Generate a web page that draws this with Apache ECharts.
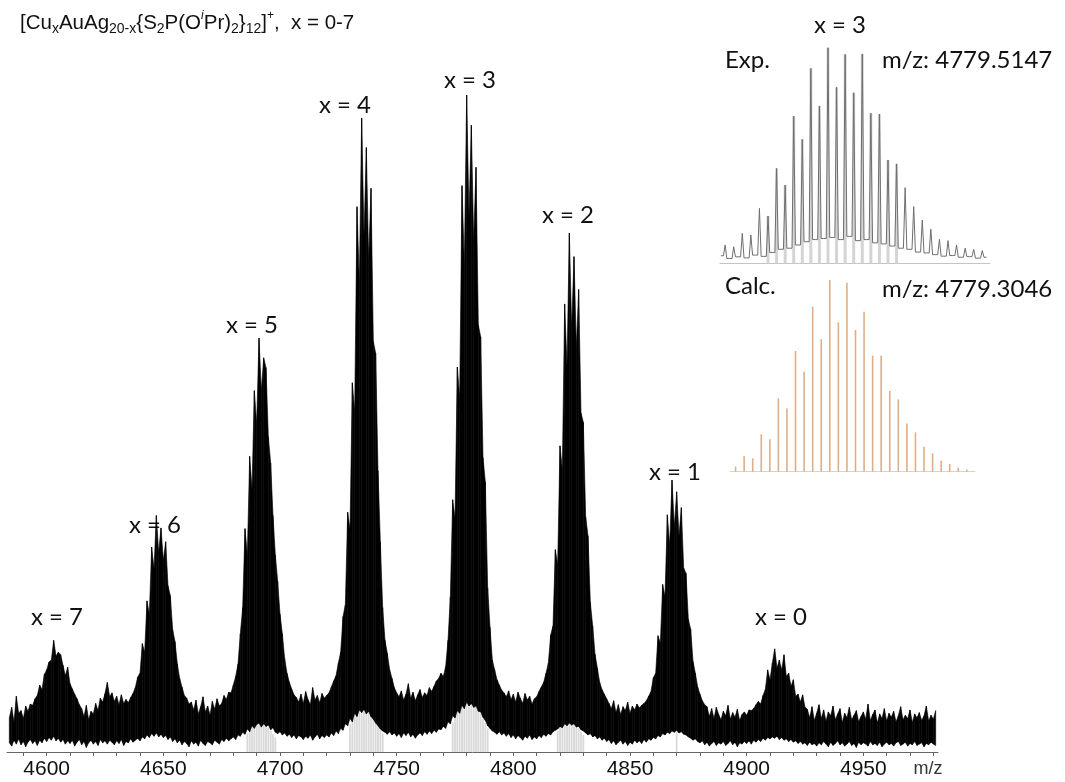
<!DOCTYPE html>
<html><head><meta charset="utf-8">
<script src="https://cdn.jsdelivr.net/npm/echarts@6/dist/echarts.min.js"></script>
<style>html,body{margin:0;padding:0;background:#fff}#c{width:1065px;height:782px}</style>
</head><body><div id="c"></div>
<script>
// ---- main spectrum: upper (peak) and lower envelope per integer m/z ----
const mzStart = 4584;
const topVals = [
 5.2,6.8,4.6,8.5,5.9,6.3,
 5.1,7.0,6.2,7.3,7.1,8.1,8.6,10.2,9.5,11.8,
 12.5,13.7,14.0,17.0,14.6,15.2,14.8,13.2,11.6,12.9,
 10.4,9.6,8.8,8.1,7.2,6.6,5.4,7.1,4.9,6.2,
 5.8,7.4,6.3,8.2,7.6,8.9,10.6,8.4,9.0,7.7,
 8.5,7.2,8.7,7.4,8.0,7.5,8.3,8.9,9.8,11.4,
 12.0,16.5,15.2,23.0,21.0,31.2,27.9,36.0,30.4,34.1,
 29.2,32.0,25.3,23.8,18.6,16.8,13.4,11.2,9.9,8.6,
 8.2,7.3,7.6,6.4,7.9,5.8,6.9,8.4,6.1,7.0,
 5.6,7.7,6.5,8.1,7.0,7.4,8.6,8.0,9.1,9.0,
 10.2,11.5,13.4,18.0,22.0,34.0,30.0,45.0,40.0,55.0,
 50.0,63.0,55.0,60.0,58.5,48.0,44.0,36.0,30.0,26.0,
 21.0,18.0,14.2,12.0,10.6,9.6,8.7,8.3,7.6,8.8,
 7.4,9.2,8.0,7.2,9.8,7.9,8.6,7.5,8.9,8.2,
 8.6,9.0,9.9,10.8,11.6,13.5,15.2,20.6,22.4,36.5,
 33.9,56.2,51.8,83.0,71.4,96.5,78.6,92.0,75.0,85.8,
 62.5,60.7,42.8,32.0,22.0,17.0,15.0,12.5,11.2,9.8,
 9.0,8.4,9.3,7.9,8.8,10.4,8.2,9.1,7.8,8.7,
 9.5,8.3,9.0,8.6,9.8,9.2,10.0,10.8,11.2,12.0,
 11.5,13.0,17.0,23.6,38.4,35.6,58.6,54.0,86.2,74.2,
 100,81.6,95.4,77.9,89.0,65.0,63.2,44.8,41.1,25.0,
 19.0,14.0,12.5,11.0,10.2,9.4,9.0,8.4,9.3,8.0,
 8.8,7.6,9.1,8.2,7.4,8.9,7.9,8.5,7.3,8.1,
 8.4,9.2,9.9,10.6,12.0,13.5,17.8,19.2,30.8,28.6,
 46.6,43.0,68.2,58.8,79.0,64.6,75.4,61.7,70.4,51.6,
 50.2,35.8,32.9,22.8,19.2,14.9,12.8,10.6,9.5,8.8,
 8.1,7.4,6.6,7.8,6.0,7.2,5.7,6.9,6.3,7.6,
 5.9,7.0,6.4,7.3,6.7,7.1,7.4,7.8,8.5,9.2,
 11.3,12.0,17.7,16.6,25.5,23.7,36.1,31.5,41.4,34.3,
 39.6,32.9,37.2,28.0,27.2,20.2,18.7,13.8,12.0,9.9,
 8.8,7.8,7.2,6.9,5.4,6.6,5.1,6.8,5.7,4.9,
 6.2,5.5,7.1,5.0,6.0,5.3,6.5,4.8,5.7,6.1,
 5.6,6.4,6.3,6.6,7.2,7.7,7.3,8.6,9.5,12.5,
 11.0,13.5,15.7,12.8,14.0,12.5,14.8,11.5,12.0,10.0,
 11.0,8.5,8.8,7.6,8.7,6.8,6.5,5.2,6.9,4.8,
 5.9,7.2,5.1,6.4,4.7,6.1,5.5,7.0,4.9,5.8,
 6.6,4.5,5.9,5.2,6.8,4.9,5.6,6.3,4.6,5.4,
 6.1,5.0,7.3,4.8,5.7,6.4,4.4,5.8,5.1,6.6,
 4.7,5.9,5.3,6.2,4.6,5.5,6.9,4.9,5.6,5.1,
 6.4,4.5,5.8,5.2,6.0,4.8,5.5,7.0,4.7,5.6,
 5.0,6.3
];
const lowVals = [
 1.4,0.9,1.8,1.2,2.0,1.1,
 1.6,0.8,1.5,1.9,1.3,1.7,1.0,1.8,1.4,2.1,
 1.6,2.2,1.8,2.4,1.7,2.1,1.5,1.9,1.2,1.7,
 1.3,1.8,0.9,1.5,1.9,1.1,1.6,0.7,1.4,1.8,
 1.2,1.6,1.0,1.9,1.4,1.7,1.2,1.8,1.5,1.1,
 1.7,1.3,1.9,1.0,1.6,1.4,2.0,1.5,1.8,2.1,
 1.7,2.3,2.0,2.6,2.2,2.8,2.4,2.9,2.3,2.7,
 2.2,2.5,1.9,2.3,1.6,2.0,1.4,1.8,1.1,1.6,
 1.3,0.8,1.7,1.2,1.5,0.9,1.8,1.3,1.0,1.6,
 1.4,1.1,1.8,1.5,1.2,1.9,1.6,2.1,1.7,2.0,
 2.3,1.9,2.6,2.4,3.0,2.7,3.5,3.1,4.0,3.6,
 4.2,4.4,3.8,4.3,3.9,4.1,3.4,3.7,3.0,2.8,
 3.1,2.6,2.9,2.4,2.7,2.2,2.6,2.0,2.5,2.3,
 1.9,2.4,2.1,2.6,1.8,2.3,2.7,2.0,2.5,2.2,
 2.6,2.3,2.9,2.5,3.2,2.8,3.6,3.3,4.3,4.0,
 5.1,4.6,5.9,5.4,6.4,6.0,6.5,5.8,6.2,5.4,
 5.0,4.4,4.0,3.5,3.2,3.0,2.7,3.1,2.6,2.9,
 2.4,2.8,2.2,2.9,2.5,3.0,2.3,2.7,2.1,2.6,
 2.9,2.5,3.1,2.7,3.2,2.8,3.3,3.0,3.5,3.4,
 3.9,3.6,4.6,4.3,5.5,5.2,6.3,5.9,7.1,6.6,
 7.6,7.0,7.4,6.8,7.0,6.2,6.1,5.3,4.8,4.0,
 3.6,3.2,3.0,2.7,3.1,2.6,2.9,2.4,2.8,2.2,
 2.6,2.0,2.5,2.2,1.8,2.4,2.1,2.6,1.9,2.3,
 2.0,2.5,2.2,2.7,2.4,2.8,2.6,3.1,3.3,3.5,
 3.9,3.7,4.3,4.0,4.4,4.1,4.3,3.8,3.9,3.4,
 3.2,2.9,2.6,2.8,2.3,2.5,2.0,2.3,1.8,2.1,
 1.6,1.9,1.3,1.7,1.1,1.5,1.8,1.2,1.6,1.0,
 1.5,1.2,1.8,1.4,1.7,1.3,1.9,1.5,2.0,1.8,
 2.2,2.0,2.5,2.3,2.8,2.6,3.0,2.8,3.2,3.0,
 3.3,2.9,3.1,2.7,2.6,2.3,2.1,1.8,2.0,1.6,
 1.4,1.7,1.1,1.5,0.9,1.3,1.6,1.0,1.4,1.2,
 1.6,1.0,1.3,1.7,1.1,1.5,0.8,1.4,1.2,1.6,
 1.3,1.7,1.2,1.8,1.5,1.9,1.6,2.1,1.8,2.2,
 2.0,2.3,2.1,2.4,1.9,2.2,1.8,2.0,1.6,1.9,
 1.5,1.7,1.3,1.6,1.2,1.4,1.0,1.5,1.1,1.3,
 0.9,1.4,1.1,1.6,1.2,0.8,1.5,1.0,1.3,1.7,
 1.1,1.4,0.9,1.2,1.6,1.0,1.3,0.7,1.5,1.1,
 1.4,1.2,0.9,1.6,1.1,1.3,1.0,1.5,0.8,1.2,
 1.5,1.1,1.3,0.9,1.4,1.6,1.0,1.2,1.5,0.9,
 1.3,1.1,1.6,1.0,1.2,1.4,0.8,1.3,1.1,1.5,
 1.2,1.0
];
// light grey calculated bars under the main clusters
const calcMainMz = [4686,4687,4688,4689,4690,4691,4692,4693,4694,4695,4696,4697,4698,
 4730,4731,4732,4733,4734,4735,4736,4737,4738,4739,4740,4741,4742,4743,4744,
 4774,4775,4776,4777,4778,4779,4780,4781,4782,4783,4784,4785,4786,4787,4788,4789,
 4819,4820,4821,4822,4823,4824,4825,4826,4827,4828,4829,4830, 4870];
const calcMainH = [2.8,3.5,4.0,4.4,4.6,4.7,4.6,4.4,4.1,3.7,3.2,2.7,2.2,
 4.2,5.0,5.7,6.2,6.5,6.7,6.6,6.4,6.1,5.7,5.2,4.6,4.0,3.4,2.8,
 4.5,5.5,6.3,6.8,7.4,7.8,7.9,7.8,7.6,7.3,6.9,6.4,5.8,5.1,4.4,3.6,
 3.2,3.8,4.2,4.5,4.6,4.6,4.5,4.3,4.0,3.6,3.1,2.6, 3.2];
const tickLabels = [4600,4650,4700,4750,4800,4850,4900,4950];
const tickMarks = [4590,4600,4610,4620,4630,4640,4650,4660,4670,4680,4690,4700,4710,4720,4730,4740,4750,4760,4770,4780,4790,4800,4810,4820,4830,4840,4850,4860,4870,4880,4890,4900,4910,4920,4930,4940,4950,4960,4970,4980];
const peakLabels = ['x = 7','x = 6','x = 5','x = 4','x = 3','x = 2','x = 1','x = 0'];
const peakLabelPos = [[57,617],[155,525],[252,325],[345,105],[470,80],[568,215],[675,472],[781,617]];

// ---- inset: experimental x = 3 ----
const expPeakStart = 4767.5;
const expPeaks = [8.5,7.7,13.9,13.1,25.5,21.9,44.0,36.3,68.3,57.5,90.4,73.0,100,81.6,96.9,79.1,97.1,69.6,69.2,47.9,46.1,35.1,26.3,20.1,15.8,11.1,10.5,8.5,7.0,6.5,5.9];
const expValleyStart = 4767;
const expValleys = [3.5,2.2,3.0,2.5,3.8,3.2,5.0,6.5,7.0,8.5,10,11,11.5,12,11,12.5,10.5,11,9.5,9,8,7,6.5,5.2,4.8,4.0,3.3,3.6,2.8,3.1,2.4,2.8];
// ---- inset: calculated x = 3 ----
const calcStart = 4768.5;
const calcPeaks = [2.6,8.2,7.0,19.5,16.9,38.3,33.0,63.0,52.2,86.1,69.2,100,77.9,98.6,73.9,83.5,60.5,60.5,42.1,37.7,25.2,20.5,13.0,9.6,5.7,4.0,2.1,1.2];

// ---- build series data ----
// each band segment joins m and m+1: [m, top(m), low(m), top(m+1), low(m+1)]
const bandSegs = [];
for (let i = 0; i < topVals.length - 1; i++) {
  bandSegs.push([mzStart + i, topVals[i], lowVals[i], topVals[i + 1], lowVals[i + 1]]);
}
const calcMain = calcMainMz.map((m, i) => [m, calcMainH[i]]);
const expTrace = [];
for (let i = 0; i < expPeaks.length; i++) {
  const m = expPeakStart + i;
  expTrace.push([m - 0.5, expValleys[i]]);
  expTrace.push([m - 0.2, expValleys[i]]);
  expTrace.push([m, expPeaks[i]]);
  expTrace.push([m + 0.2, expValleys[i + 1]]);
}
expTrace.push([expValleyStart + expValleys.length - 1, expValleys[expValleys.length - 1]]);
const expBars = expPeaks.map((v, i) => [expPeakStart + i, v]).filter(d => d[0] >= 4772.5 && d[0] <= 4787.5);
const calcBars = calcPeaks.map((v, i) => [calcStart + i, v]);

const LAB = 'Lato, "Open Sans", sans-serif';
const ARIAL = '"Liberation Sans", Arial, sans-serif';

const graphic = [];
peakLabels.forEach((t, i) => {
  graphic.push({type:'text', x: peakLabelPos[i][0], y: peakLabelPos[i][1],
    style:{text:t, font:'24px ' + LAB, fill:'#111', textAlign:'center', textVerticalAlign:'middle'}});
});
graphic.push({type:'text', x:840, y:25, style:{text:'x = 3', font:'24px ' + LAB, fill:'#111', textAlign:'center', textVerticalAlign:'middle'}});
graphic.push({type:'text', x:725, y:60, style:{text:'Exp.', font:'24px ' + LAB, fill:'#111', textAlign:'left', textVerticalAlign:'middle'}});
graphic.push({type:'text', x:882, y:60, style:{text:'m/z: 4779.5147', font:'24px ' + LAB, fill:'#111', textAlign:'left', textVerticalAlign:'middle'}});
graphic.push({type:'text', x:725, y:286, style:{text:'Calc.', font:'24px ' + LAB, fill:'#111', textAlign:'left', textVerticalAlign:'middle'}});
graphic.push({type:'text', x:882, y:289, style:{text:'m/z: 4779.3046', font:'24px ' + LAB, fill:'#111', textAlign:'left', textVerticalAlign:'middle'}});
graphic.push({type:'text', x:928, y:769, style:{text:'m/z', font:'18px ' + ARIAL, fill:'#333', textAlign:'center', textVerticalAlign:'middle'}});
graphic.push({type:'text', x:20, y:10, style:{
  text:'{m|[Cu}{s|x}{m|AuAg}{s|20-x}{m|{S}{s|2}{m|P(O}{p|i}{m|Pr)}{s|2}}{s|12}{m|]}{q|+}{m|,  x = 0-7}',
  font:'20.5px ' + ARIAL, lineHeight:26,
  textAlign:'left', textVerticalAlign:'top', fill:'#111',
  rich:{
    m:{fontFamily:ARIAL, fontSize:20.5, lineHeight:26, fill:'#111', verticalAlign:'middle'},
    s:{fontFamily:ARIAL, fontSize:14, lineHeight:13, fill:'#111', verticalAlign:'bottom'},
    p:{fontFamily:ARIAL, fontSize:12, fontStyle:'italic', lineHeight:24, fill:'#111', verticalAlign:'top'},
    q:{fontFamily:ARIAL, fontSize:12, lineHeight:24, fill:'#111', verticalAlign:'top'}
  }}});

const chart = echarts.init(document.getElementById('c'), null, {renderer:'canvas'});
chart.setOption({
  animation:false,
  backgroundColor:'#fff',
  grid:[
    {left:7, width:931, top:95, bottom:30, containLabel:false, outerBoundsMode:'none'},
    {left:720, width:270, top:47.7, height:215.6, containLabel:false, outerBoundsMode:'none'},
    {left:730, width:245, top:280, height:191.7, containLabel:false, outerBoundsMode:'none'}
  ],
  xAxis:[
    {type:'value', gridIndex:0, min:4583, max:4982, z:10,
     axisLine:{show:true, onZero:false, lineStyle:{color:'#666', width:1}},
     axisTick:{show:true, customValues:tickMarks, length:4, inside:false, lineStyle:{color:'#666', width:1}},
     axisLabel:{show:true, customValues:tickLabels, fontSize:21, fontFamily:ARIAL, color:'#111', margin:7,
       formatter: v => String(v)},
     splitLine:{show:false}, minorTick:{show:false}},
    {type:'value', gridIndex:1, min:4766.9, max:4798.4,
     axisLine:{show:true, onZero:false, lineStyle:{color:'#c4c4c4', width:1}},
     axisTick:{show:false}, axisLabel:{show:false}, splitLine:{show:false}},
    {type:'value', gridIndex:2, min:4767.85, max:4796.45,
     axisLine:{show:true, onZero:false, lineStyle:{color:'#ecd0b6', width:1}},
     axisTick:{show:false}, axisLabel:{show:false}, splitLine:{show:false}}
  ],
  yAxis:[
    {type:'value', gridIndex:0, min:0, max:100, show:false},
    {type:'value', gridIndex:1, min:0, max:100, show:false},
    {type:'value', gridIndex:2, min:0, max:100, show:false}
  ],
  series:[
    {type:'bar', xAxisIndex:0, yAxisIndex:0, data:calcMain, barWidth:1.8, itemStyle:{color:'#d9d9d9'}, silent:true, z:1},
    {type:'custom', xAxisIndex:0, yAxisIndex:0, data:bandSegs, silent:true, z:3,
     dimensions:['mz','top','low','top2','low2'], encode:{x:0, y:[1,2]},
     renderItem: function (params, api) {
       const m = api.value(0);
       const a = api.coord([m, api.value(2)]);
       const b = api.coord([m, api.value(1)]);
       const c = api.coord([m + 1, api.value(3)]);
       const d = api.coord([m + 1, api.value(4)]);
       return {type:'polygon', shape:{points:[a, b, c, d]},
               style:{fill:'#000', stroke:'#000', lineWidth:0.6}};
     }},
    {type:'bar', xAxisIndex:1, yAxisIndex:1, data:expBars, barWidth:3, itemStyle:{color:'#d4d4d4'}, silent:true, z:1},
    {type:'line', xAxisIndex:1, yAxisIndex:1, data:expTrace, symbol:'none', lineStyle:{color:'#6e6e6e', width:1}, silent:true, z:2},
    {type:'bar', xAxisIndex:2, yAxisIndex:2, data:calcBars, barWidth:1.6, itemStyle:{color:'#dfae86'}, silent:true, z:2}
  ],
  graphic: graphic
});
</script></body></html>
